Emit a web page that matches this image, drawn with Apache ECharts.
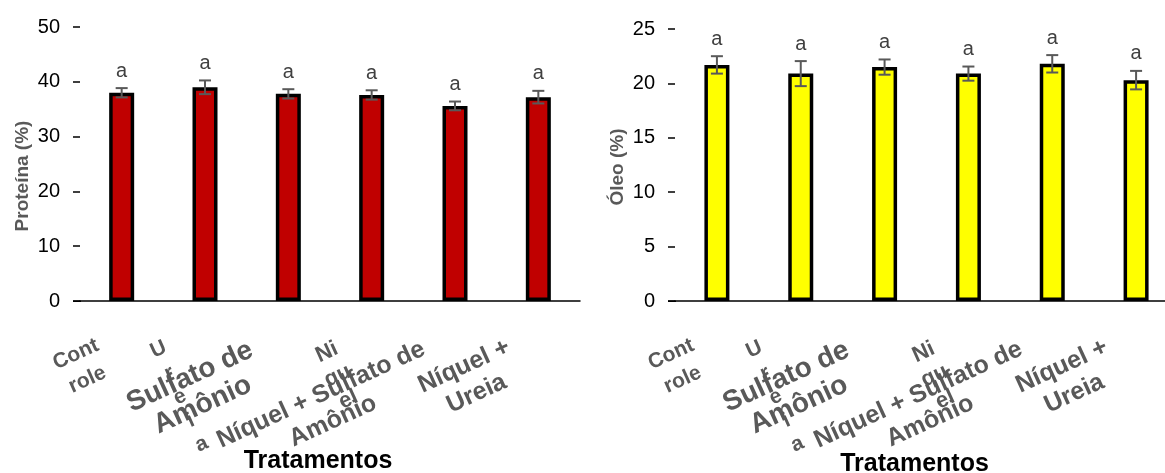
<!DOCTYPE html>
<html>
<head>
<meta charset="utf-8">
<script src="https://cdn.jsdelivr.net/npm/echarts@6/dist/echarts.min.js"></script>
<style>
html,body{margin:0;padding:0;background:#fff;}
#c{width:1165px;height:473px;}
</style>
</head>
<body>
<div id="c"></div>
<script>
// ---- data ----
const categories = ['Controle', 'Ureia', 'Sulfato de Amônio', 'Níquel', 'Níquel + Sulfato de Amônio', 'Níquel + Ureia'];
const tickLabels = ['Cont\nrole', 'U\nr\ne\ni\na', 'Sulfato de\nAmônio', 'Ni\nqu\nel', 'Níquel + Sulfato de\nAmônio', 'Níquel +\nUreia'];
const proteinValues = [38.0, 39.0, 37.8, 37.6, 35.6, 37.2];
const proteinErrors = [0.85, 1.25, 0.85, 0.85, 0.8, 1.15];
const proteinLetters = ['a', 'a', 'a', 'a', 'a', 'a'];
const oilValues = [21.7, 20.9, 21.5, 20.9, 21.8, 20.3];
const oilErrors = [0.8, 1.15, 0.7, 0.65, 0.8, 0.85];
const oilLetters = ['a', 'a', 'a', 'a', 'a', 'a'];

const FONT = 'Liberation Sans';
const GRAY = '#595959';

// label styling: font size, line height and pixel shift of each rotated label block from its tick
const labelStyles = [
  {fontSize: 21, lineHeight: 28, dx: -40, dy: 66},
  {fontSize: 21, lineHeight: 26, dx: -25, dy: 96},
  {fontSize: 28, lineHeight: 31, dx: -92, dy: 90},
  {fontSize: 22, lineHeight: 26, dx: -34, dy: 75},
  {fontSize: 25, lineHeight: 29, dx: -128, dy: 107},
  {fontSize: 25, lineHeight: 30, dx: -68, dy: 79}
];
const LABEL_ROTATE = 24.5;
const AXIS_OVERHANG = 7; // x-axis line continues under the y ticks

function errData(vals, errs, letters) {
  return vals.map((v, i) => [i, v, errs[i], letters[i]]);
}

function errRender(params, api) {
  const x = api.value(0), v = api.value(1), e = api.value(2);
  const letter = params.data ? params.data[3] : 'a';
  const top = api.coord([x, v + e]);
  const bot = api.coord([x, v - e]);
  const cap = 6;
  const st = {stroke: GRAY, lineWidth: 2};
  return {
    type: 'group',
    children: [
      {type: 'line', shape: {x1: top[0], y1: top[1], x2: bot[0], y2: bot[1]}, style: st},
      {type: 'line', shape: {x1: top[0] - cap, y1: top[1], x2: top[0] + cap, y2: top[1]}, style: st},
      {type: 'line', shape: {x1: bot[0] - cap, y1: bot[1], x2: bot[0] + cap, y2: bot[1]}, style: st},
      {type: 'text', style: {text: letter, x: top[0], y: top[1] - 17, align: 'center', verticalAlign: 'middle',
        fontSize: 20, fontFamily: FONT, fill: '#404040'}}
    ]
  };
}

function labelRender(params, api) {
  const i = params.dataIndex;
  const p = api.coord([api.value(0), 0]);
  const s = labelStyles[i];
  const children = [{
    type: 'text',
    x: p[0] + s.dx, y: p[1] + s.dy,
    rotation: LABEL_ROTATE * Math.PI / 180,
    style: {text: tickLabels[i], align: 'center', verticalAlign: 'middle',
      fontSize: s.fontSize, lineHeight: s.lineHeight, fontWeight: 'bold', fontFamily: FONT, fill: GRAY}
  }];
  if (i === 0) {
    const half = api.size([1, 0])[0] / 2;
    children.push({type: 'line', shape: {x1: p[0] - half - AXIS_OVERHANG, y1: p[1] + 0.25, x2: p[0] - half + 1, y2: p[1] + 0.25},
      style: {stroke: '#000', lineWidth: 1.5}});
  }
  return {type: 'group', children: children};
}

function xAxisCfg(gridIndex) {
  return {
    type: 'category', gridIndex: gridIndex, data: categories,
    axisLine: {lineStyle: {color: '#000', width: 1.5}},
    axisTick: {show: false},
    axisLabel: {show: false},
    name: 'Tratamentos', nameLocation: 'middle', nameGap: gridIndex === 0 ? 148 : 151, nameMoveOverlap: false,
    nameTextStyle: {fontSize: 25, fontWeight: 'bold', color: '#000', fontFamily: FONT, padding: [0, 24, 0, 0]}
  };
}

function yAxisCfg(gridIndex, max, interval, name, padding) {
  return {
    type: 'value', gridIndex: gridIndex, min: 0, max: max, interval: interval,
    axisLine: {show: false},
    axisTick: {show: true, length: 7, lineStyle: {color: '#000', width: 1.5}},
    splitLine: {show: false},
    axisLabel: {fontSize: 20, color: '#000', fontFamily: FONT, margin: 20},
    name: name, nameLocation: 'middle', nameGap: 48, nameRotate: 90, nameMoveOverlap: false,
    nameTextStyle: {fontSize: 19, fontWeight: 'bold', color: GRAY, fontFamily: FONT, padding: padding}
  };
}

function labelSeries(idx) {
  return {type: 'custom', xAxisIndex: idx, yAxisIndex: idx, clip: false, silent: true,
    data: tickLabels.map((t, i) => [i, 0]), renderItem: labelRender, z: 6};
}

const option = {
  animation: false,
  backgroundColor: '#fff',
  grid: [
    {left: 80, right: 585, top: 27, bottom: 172, containLabel: false, outerBoundsMode: 'none'},
    {left: 675, right: -13, top: 29, bottom: 172, containLabel: false, outerBoundsMode: 'none'}
  ],
  xAxis: [xAxisCfg(0), xAxisCfg(1)],
  yAxis: [
    yAxisCfg(0, 50, 10, 'Proteína (%)', [0, 24, 0, 0]),
    yAxisCfg(1, 25, 5, 'Óleo (%)', [0, 4, 0, 0])
  ],
  series: [
    {type: 'bar', xAxisIndex: 0, yAxisIndex: 0, data: proteinValues, barWidth: 25,
      itemStyle: {color: '#C00000', borderColor: '#000', borderWidth: 3.5}},
    {type: 'custom', xAxisIndex: 0, yAxisIndex: 0, data: errData(proteinValues, proteinErrors, proteinLetters),
      renderItem: errRender, z: 5},
    labelSeries(0),
    {type: 'bar', xAxisIndex: 1, yAxisIndex: 1, data: oilValues, barWidth: 25,
      itemStyle: {color: '#FFFF00', borderColor: '#000', borderWidth: 3.5}},
    {type: 'custom', xAxisIndex: 1, yAxisIndex: 1, data: errData(oilValues, oilErrors, oilLetters),
      renderItem: errRender, z: 5},
    labelSeries(1)
  ]
};

const chart = echarts.init(document.getElementById('c'), null, {renderer: 'canvas'});
chart.setOption(option);
</script>
</body>
</html>
